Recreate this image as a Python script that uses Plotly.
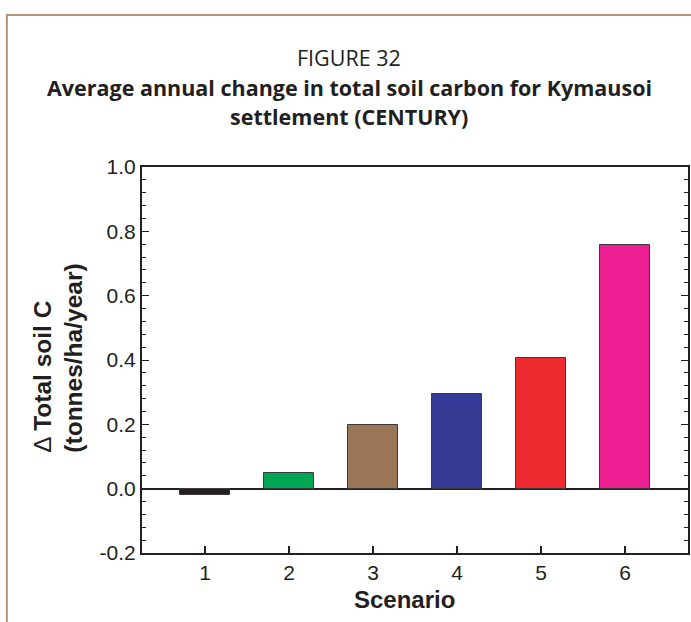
import plotly.graph_objects as go

scenarios = [1, 2, 3, 4, 5, 6]
delta_soil_c = [-0.019, 0.048, 0.199, 0.294, 0.406, 0.758]
bar_colors = ["#231f20", "#00a651", "#9a7656", "#353b94", "#ed2a2f", "#ec1e92"]
y_tick_vals = [-0.2, 0.0, 0.2, 0.4, 0.6, 0.8, 1.0]
y_tick_text = ["-0.2", "0.0", "0.2", "0.4", "0.6", "0.8", "1.0"]
x_tick_text = ["1", "2", "3", "4", "5", "6"]
title_lines = [
    "FIGURE 32",
    "<b>Average annual change in total soil carbon for Kymausoi</b>",
    "<b>settlement (CENTURY)</b>",
]

W, H = 691, 622
L, R, T, B = 141.7, 1, 167, 69
pw = W - L - R
ph = H - T - B

def px(x):
    return (x - L) / pw

def py(y):
    return (H - B - y) / ph

fig = go.Figure()
fig.add_trace(go.Bar(
    x=scenarios, y=delta_soil_c, width=0.6,
    marker=dict(color=bar_colors, line=dict(color="#3a3a3a", width=1)),
    showlegend=False,
))

axis_font = dict(family="Liberation Sans, Arial, sans-serif", size=21, color="#231f20")

fig.update_layout(
    width=W, height=H,
    margin=dict(l=L, r=R, t=T, b=B),
    paper_bgcolor="white", plot_bgcolor="white",
    bargap=0,
    xaxis=dict(
        range=[0.25, 6.75], tickvals=scenarios, ticktext=x_tick_text,
        ticks="inside", ticklen=7, tickwidth=1.5, tickcolor="#231f20",
        showline=True, linecolor="#231f20", linewidth=2, mirror=True,
        showgrid=False, zeroline=False, tickfont=axis_font,
    ),
    yaxis=dict(
        range=[-0.2, 1.0], tickvals=y_tick_vals, ticktext=y_tick_text,
        ticks="inside", ticklen=7, tickwidth=1.2, tickcolor="#231f20",
        minor=dict(dtick=0.04, tick0=0, ticks="inside", ticklen=4, tickwidth=1, tickcolor="#231f20"),
        showline=True, linecolor="#231f20", linewidth=2, mirror="allticks",
        showgrid=False, zeroline=True, zerolinecolor="#231f20", zerolinewidth=1.5,
        tickfont=axis_font,
    ),
)

title_centers = [57.5, 87.5, 116.5]
for txt, yc in zip(title_lines, title_centers):
    fig.add_annotation(
        text=txt, x=px(350), y=py(yc), xref="paper", yref="paper",
        xanchor="center", yanchor="middle", showarrow=False,
        font=dict(family="Open Sans, sans-serif", size=21.5, color="#231f20"),
    )

fig.add_annotation(
    text="<b>Scenario</b>", x=px(405), y=py(599), xref="paper", yref="paper",
    xanchor="center", yanchor="middle", showarrow=False,
    font=dict(family="Liberation Sans, Arial, sans-serif", size=24, color="#231f20"),
)
fig.add_annotation(
    text="\u0394 <b>Total soil C</b><br><b>(tonnes/ha/year)</b>", x=px(57), y=py(358),
    xref="paper", yref="paper", xanchor="center", yanchor="middle",
    textangle=-90, align="left", showarrow=False,
    font=dict(family="Liberation Sans, Arial, sans-serif", size=24.5, color="#231f20"),
)

fig.add_shape(
    type="path", xref="paper", yref="paper",
    path=f"M {px(6)} {py(700)} L {px(6)} {py(15)} L {px(760)} {py(15)}",
    line=dict(color="#b8917a", width=2), layer="above",
)

fig.write_html(
    "out.html",
    config={"displayModeBar": False},
    post_script="document.body.style.margin='0';document.body.style.overflow='hidden';",
)
